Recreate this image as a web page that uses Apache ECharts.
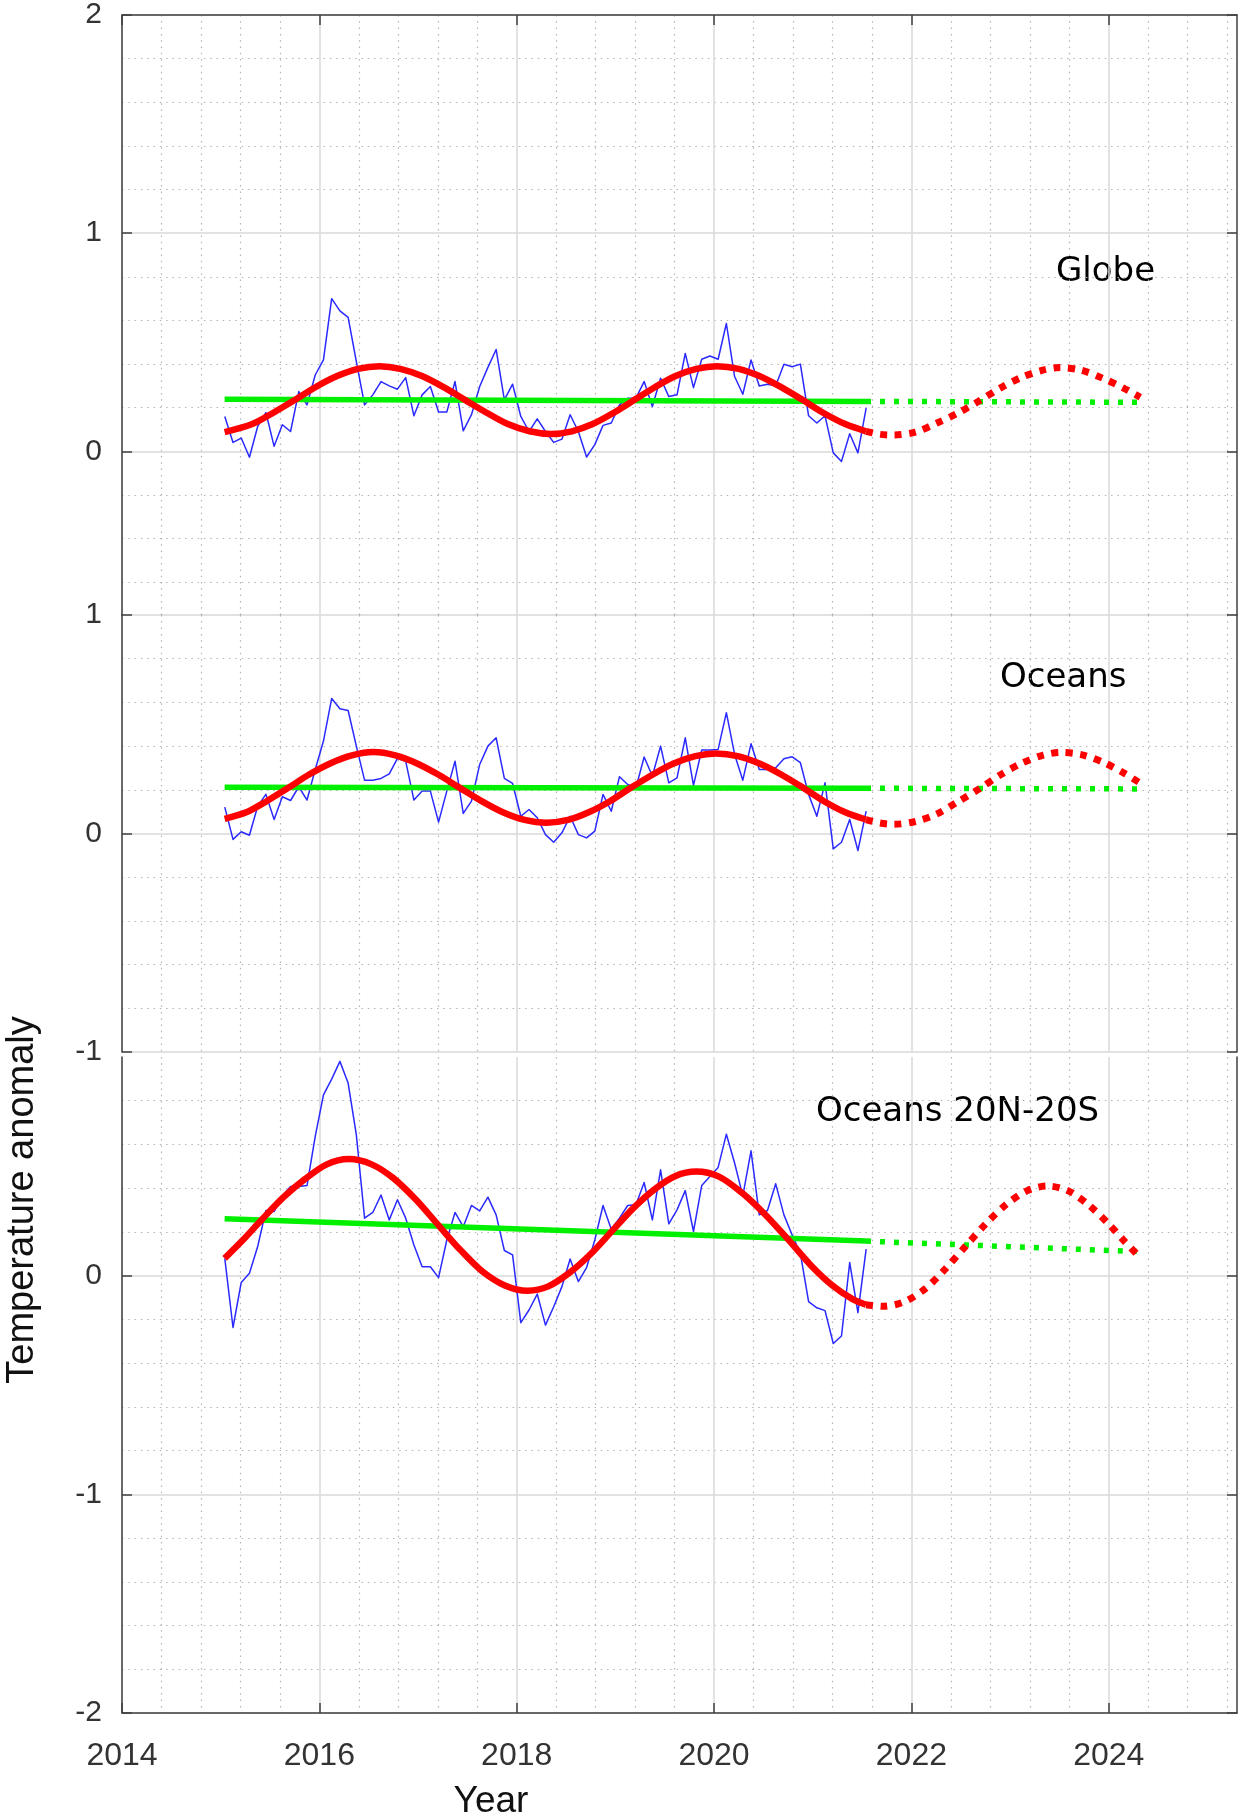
<!DOCTYPE html>
<html><head><meta charset="utf-8">
<script src="https://cdn.jsdelivr.net/npm/echarts@6/dist/echarts.min.js"></script>
<style>html,body{margin:0;padding:0;background:#fff}#c{width:1240px;height:1820px}</style>
</head><body><div id="c"></div>
<script>
// ---------- DATA ----------
const firstYear = 2015; // monthly anomalies from Jan 2015
const globeBlue = [0.160,0.041,0.061,-0.027,0.114,0.178,0.023,0.122,0.091,0.274,
 0.213,0.350,0.419,0.700,0.644,0.614,0.411,0.213,0.259,0.320,
 0.300,0.285,0.338,0.163,0.259,0.297,0.180,0.180,0.320,0.094,
 0.168,0.297,0.385,0.467,0.236,0.308,0.160,0.091,0.149,0.091,
 0.041,0.056,0.168,0.091,-0.026,0.031,0.119,0.130,0.213,0.244,
 0.244,0.320,0.206,0.335,0.251,0.259,0.449,0.292,0.422,0.437,
 0.422,0.586,0.343,0.262,0.419,0.300,0.308,0.301,0.399,0.388,
 0.400,0.163,0.130,0.163,-0.007,-0.046,0.081,-0.007,0.198];
const oceansBlue = [0.121,-0.027,0.008,-0.008,0.125,0.179,0.064,0.168,0.151,0.214,
 0.153,0.293,0.423,0.618,0.571,0.563,0.400,0.244,0.244,0.252,
 0.273,0.344,0.331,0.153,0.194,0.194,0.052,0.194,0.331,0.092,
 0.148,0.316,0.400,0.438,0.252,0.229,0.079,0.110,0.072,-0.005,
 -0.040,0.003,0.079,-0.005,-0.020,0.011,0.179,0.102,0.260,0.224,
 0.209,0.350,0.263,0.400,0.232,0.255,0.438,0.220,0.382,0.382,
 0.385,0.553,0.362,0.244,0.411,0.293,0.293,0.301,0.342,0.351,
 0.324,0.179,0.079,0.232,-0.070,-0.040,0.064,-0.078,0.102];
const tropBlue = [0.079,-0.237,-0.031,0.011,0.133,0.298,0.293,0.365,0.408,0.408,
 0.412,0.637,0.827,0.899,0.980,0.881,0.644,0.263,0.289,0.369,
 0.255,0.347,0.263,0.140,0.041,0.041,-0.009,0.163,0.289,0.224,
 0.321,0.296,0.359,0.278,0.115,0.095,-0.215,-0.157,-0.084,-0.226,
 -0.142,-0.050,0.076,-0.027,0.037,0.163,0.321,0.212,0.263,0.321,
 0.324,0.426,0.255,0.484,0.237,0.301,0.389,0.202,0.412,0.453,
 0.495,0.647,0.515,0.365,0.571,0.278,0.298,0.420,0.278,0.186,
 0.102,-0.119,-0.147,-0.160,-0.310,-0.276,0.060,-0.169,0.121];

// fitted cycle (red): [year, value]
const globeFit = [[2015.04,0.088],[2015.32,0.125],[2015.53,0.176],[2015.75,0.235],[2015.96,0.294],[2016.18,0.345],
 [2016.39,0.378],[2016.61,0.39],[2016.82,0.378],[2017.04,0.345],[2017.26,0.294],[2017.48,0.235],[2017.70,0.176],
 [2017.91,0.125],[2018.13,0.092],[2018.35,0.08],[2018.56,0.092],[2018.77,0.125],[2018.98,0.176],[2019.19,0.235],
 [2019.40,0.294],[2019.61,0.345],[2019.82,0.378],[2020.03,0.39],[2020.25,0.378],[2020.46,0.345],[2020.68,0.294],
 [2020.90,0.235],[2021.11,0.176],[2021.33,0.125],[2021.54,0.092]];
const globeFcst = [[2021.54,0.092],[2021.68,0.078],[2021.82,0.075],[2022.04,0.088],[2022.26,0.13],[2022.47,0.175],
 [2022.69,0.232],[2022.9,0.29],[2023.12,0.34],[2023.33,0.372],[2023.5,0.384],[2023.72,0.372],[2023.94,0.335],
 [2024.15,0.29],[2024.32,0.248]];
const oceansFit = [[2015.04,0.067],[2015.26,0.097],[2015.47,0.149],[2015.69,0.21],[2015.90,0.271],[2016.12,0.323],
 [2016.33,0.358],[2016.55,0.373],[2016.77,0.358],[2016.98,0.323],[2017.20,0.271],[2017.42,0.21],[2017.64,0.149],
 [2017.86,0.097],[2018.08,0.062],[2018.30,0.049],[2018.52,0.062],[2018.73,0.097],[2018.95,0.149],[2019.16,0.21],
 [2019.38,0.27],[2019.59,0.32],[2019.81,0.354],[2020.02,0.366],[2020.24,0.354],[2020.46,0.32],[2020.68,0.27],
 [2020.90,0.21],[2021.11,0.149],[2021.33,0.097],[2021.54,0.064]];
const oceansFcst = [[2021.54,0.064],[2021.68,0.048],[2021.82,0.042],[2022.04,0.055],[2022.26,0.09],[2022.47,0.145],
 [2022.69,0.205],[2022.9,0.268],[2023.12,0.322],[2023.33,0.358],[2023.51,0.371],[2023.73,0.36],[2023.95,0.325],
 [2024.16,0.275],[2024.31,0.233]];
const tropFit = [[2015.04,0.079],[2015.23,0.165],[2015.42,0.258],[2015.64,0.36],[2015.85,0.44],[2016.07,0.508],
 [2016.30,0.533],[2016.53,0.509],[2016.75,0.446],[2016.98,0.347],[2017.21,0.229],[2017.43,0.117],[2017.65,0.02],
 [2017.88,-0.045],[2018.11,-0.069],[2018.32,-0.049],[2018.54,0.015],[2018.75,0.099],[2018.97,0.206],[2019.18,0.308],
 [2019.40,0.396],[2019.61,0.456],[2019.82,0.476],[2020.05,0.453],[2020.28,0.38],[2020.51,0.283],[2020.75,0.166],
 [2020.98,0.048],[2021.2,-0.045],[2021.4,-0.106],[2021.54,-0.133]];
const tropFcst = [[2021.54,-0.133],[2021.72,-0.14],[2021.93,-0.119],[2022.14,-0.06],[2022.34,0.029],[2022.55,0.135],
 [2022.76,0.24],[2022.96,0.325],[2023.17,0.388],[2023.38,0.41],[2023.59,0.388],[2023.8,0.322],[2024.0,0.236],
 [2024.16,0.157],[2024.31,0.087]];

// linear trend (green): [year, value]
const globeTrend = [[2015.04,0.239],[2021.54,0.229]];
const globeTrendF = [[2021.54,0.229],[2024.32,0.225]];
const oceansTrend = [[2015.04,0.212],[2021.54,0.207]];
const oceansTrendF = [[2021.54,0.207],[2024.31,0.204]];
const tropTrend = [[2015.04,0.26],[2021.54,0.158]];
const tropTrendF = [[2021.54,0.158],[2024.31,0.11]];

const panelNames = ['Globe', 'Oceans', 'Oceans 20N-20S'];
const xTickLabels = [2014, 2016, 2018, 2020, 2022, 2024];
const yLabelSets = [[0, 1, 2], [-1, 0, 1], [-2, -1, 0]];
const yRanges = [[-0.75, 2], [-1, 1], [-2, 1]];
const xRange = [2014, 2025.3];

// ---------- LAYOUT / STYLE ----------
const grids = [
  {left: 122, top: 13, width: 1115, height: 602},
  {left: 122, top: 615, width: 1115, height: 437},
  {left: 122, top: 1057, width: 1115, height: 656}
];
const AX = '#404040';
const MAJ = {color: '#d9d9d9', width: 1.5, type: 'solid'};
const MIN = {color: '#b4b4b4', width: 1.2, type: [1.5, 4.8]};
const TICKFONT = "'Liberation Sans', Arial, sans-serif";
const TXTFONT = "'DejaVu Sans', Verdana, sans-serif";

function steps(lo, hi, step, skip) {
  const out = [];
  for (let k = Math.ceil(lo / step - 1e-9); k * step <= hi + 1e-9; k++) {
    const v = Math.round(k * step * 100) / 100;
    if (Math.abs(v / skip - Math.round(v / skip)) > 1e-6) out.push(v);
  }
  return out;
}

const xAxes = [], yAxes = [], mainX = [], mainY = [];
for (let p = 0; p < 3; p++) {
  const [ymin, ymax] = yRanges[p];
  mainX.push(xAxes.length);
  xAxes.push({
    type: 'value', gridIndex: p, min: xRange[0], max: xRange[1],
    position: p === 0 ? 'top' : 'bottom',
    axisLine: {show: p !== 1, onZero: false, lineStyle: {color: AX, width: 1.5}},
    axisTick: {show: p !== 1, inside: true, length: 10, customValues: xTickLabels, lineStyle: {color: AX, width: 1.5}},
    axisLabel: {show: p === 2, customValues: xTickLabels, formatter: v => String(v), fontSize: 32,
      fontFamily: TICKFONT, color: '#333', margin: 27},
    splitLine: {show: true, lineStyle: MAJ}
  });
  xAxes.push({
    type: 'value', gridIndex: p, min: xRange[0], max: xRange[1],
    position: p === 0 ? 'top' : 'bottom',
    axisLine: {show: false, onZero: false}, axisLabel: {show: false},
    axisTick: {show: false, customValues: steps(xRange[0], xRange[1], 0.4, 2)},
    splitLine: {show: true, lineStyle: MIN}
  });
  mainY.push(yAxes.length);
  yAxes.push({
    type: 'value', gridIndex: p, min: ymin, max: ymax, position: 'left',
    axisLine: {show: true, onZero: false, lineStyle: {color: AX, width: 1.5}},
    axisTick: {show: true, inside: true, length: 10, customValues: yLabelSets[p], lineStyle: {color: AX, width: 1.5}},
    axisLabel: {show: true, customValues: yLabelSets[p], formatter: v => String(v), fontSize: 30,
      fontFamily: TICKFONT, color: '#333', margin: 20},
    splitLine: {show: true, lineStyle: MAJ}
  });
  yAxes.push({
    type: 'value', gridIndex: p, min: ymin, max: ymax, position: 'left',
    axisLine: {show: false, onZero: false}, axisLabel: {show: false},
    axisTick: {show: false, customValues: steps(ymin, ymax, 0.2, 1)},
    splitLine: {show: true, lineStyle: MIN}
  });
  yAxes.push({
    type: 'value', gridIndex: p, min: ymin, max: ymax, position: 'right',
    axisLine: {show: true, onZero: false, lineStyle: {color: AX, width: 1.5}},
    axisTick: {show: true, inside: true, length: 10, customValues: yLabelSets[p], lineStyle: {color: AX, width: 1.5}},
    axisLabel: {show: false}, splitLine: {show: false}
  });
}

function ser(p, data, color, width, type, smooth) {
  return {type: 'line', xAxisIndex: mainX[p], yAxisIndex: mainY[p], data: data, symbol: 'none',
    smooth: smooth, silent: true, clip: true,
    lineStyle: {color: color, width: width, type: type, cap: 'butt', join: 'round'}};
}
const toMonthly = arr => arr.map((v, i) => [firstYear + (i + 0.5) / 12, v]);
const panels = [
  [globeBlue, globeTrend, globeTrendF, globeFit, globeFcst],
  [oceansBlue, oceansTrend, oceansTrendF, oceansFit, oceansFcst],
  [tropBlue, tropTrend, tropTrendF, tropFit, tropFcst]
];
const series = [];
panels.forEach((d, p) => {
  series.push(ser(p, toMonthly(d[0]), '#2a2aff', 1.5, 'solid', false));
  series.push(ser(p, d[1], '#00f000', 5.5, 'solid', false));
  series.push(ser(p, d[2], '#00f000', 5.5, [5, 9], false));
  series.push(ser(p, d[3], '#ff0000', 6.5, 'solid', 0.3));
  series.push(ser(p, d[4], '#ff0000', 7, [7, 7.5], 0.3));
});

const txt = (x, y, s) => ({type: 'text', x: x, y: y, silent: true,
  style: {text: s, fontSize: 34, fontFamily: TXTFONT, fill: '#000', textAlign: 'left', align: 'left',
    textVerticalAlign: 'middle', verticalAlign: 'middle'}});

const chart = echarts.init(document.getElementById('c'), null, {renderer: 'canvas'});
chart.setOption({
  animation: false,
  backgroundColor: '#fff',
  grid: grids,
  xAxis: xAxes,
  yAxis: yAxes,
  series: series,
  graphic: [
    txt(1056, 272, panelNames[0]),
    txt(1000, 678, panelNames[1]),
    txt(816, 1112, panelNames[2]),
    {type: 'text', x: 491, y: 1802, silent: true,
      style: {text: 'Year', fontSize: 37, fontFamily: TICKFONT, fill: '#111', textAlign: 'center', align: 'center',
        textVerticalAlign: 'middle', verticalAlign: 'middle'}},
    {type: 'text', x: 23, y: 1200, rotation: Math.PI / 2, silent: true,
      style: {text: 'Temperature anomaly', fontSize: 38, fontFamily: TICKFONT, fill: '#111', textAlign: 'center', align: 'center',
        textVerticalAlign: 'middle', verticalAlign: 'middle'}}
  ]
});
</script></body></html>
